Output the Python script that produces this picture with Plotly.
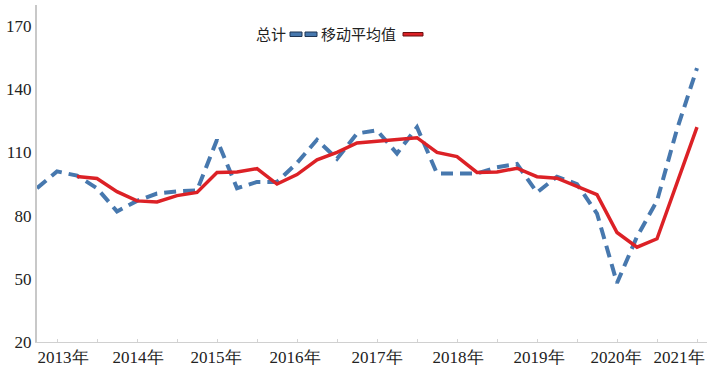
import plotly.graph_objects as go

# Quarterly series, 2013Q1 .. 2021Q2
quarters = [f"{y}Q{q}" for y in range(2013, 2022) for q in range(1, 5)][:34]
total = [93, 101, 99, 93, 82, 87, 90.5, 91.5, 92, 116, 93, 96,
         96, 105, 116, 107, 119, 120.5, 109.5, 122, 100, 100, 100, 103,
         104.5, 91, 98.5, 95, 81, 48, 70, 87, 121, 150]
moving_avg = [None, None, 98.6, 97.6, 91.4, 87, 86.5, 89.5, 91, 100.5, 100.7, 102.3,
              95, 99.5, 106.5, 110, 114.5, 115.3, 115.8, 117, 110, 108, 100.5, 100.7,
              102.5, 98.5, 97.8, 94, 90, 72, 65, 69, 95.5, 122]
year_labels = ["2013年", "2014年", "2015年", "2016年", "2017年",
               "2018年", "2019年", "2020年", "2021年"]
year_label_pos = [1.3, 5.05, 8.95, 12.9, 17.0, 21.05, 25.1, 28.95, 32.1]
y_ticks = [20, 50, 80, 110, 140, 170]

x = list(range(len(quarters)))

BLUE = "#4778ae"
RED = "#dc2126"
SERIF = "Liberation Serif"

fig = go.Figure()
fig.add_trace(go.Scatter(
    x=x, y=total, name="总计", mode="lines", customdata=quarters,
    hovertemplate="%{customdata}: %{y}<extra>总计</extra>",
    line=dict(color=BLUE, width=4, dash="12px,7px"),
))
fig.add_trace(go.Scatter(
    x=x, y=moving_avg, name="移动平均值", mode="lines", customdata=quarters,
    hovertemplate="%{customdata}: %{y}<extra>移动平均值</extra>",
    line=dict(color=RED, width=3.5),
))

fig.update_layout(
    template="none",
    width=712, height=367,
    margin=dict(l=37, r=5, t=5, b=25),
    paper_bgcolor="white", plot_bgcolor="white",
    showlegend=False,
    font=dict(family=SERIF, size=17, color="#222"),
)
fig.update_xaxes(
    automargin=False,
    range=[0, 33.5], showgrid=False, zeroline=False,
    tickmode="array", tickvals=year_label_pos, ticktext=year_labels,
    ticks="", showline=True, linecolor="#d0d0d0", linewidth=1,
    tickfont=dict(family=SERIF, size=17, color="#222"),
    minor=dict(tickmode="array", tickvals=list(range(1, 34, 2)),
               ticks="inside", ticklen=3, tickcolor="#d4d4d4", showgrid=False),
)
fig.update_yaxes(
    automargin=False,
    range=[20, 180], showgrid=False, zeroline=False,
    tickmode="array", tickvals=y_ticks, ticks="",
    showline=True, linecolor="#c8c8c8", linewidth=2,
    tickfont=dict(family=SERIF, size=17, color="#222"),
)

# Legend drawn as text + key samples (key to the right of each label)
cjk = "Noto Sans CJK SC"

def px_x(px):
    return (px - 37) / 670

def px_y(py):
    return 1 - (py - 5) / 337

fig.add_annotation(xref="paper", yref="paper", x=px_x(254), y=px_y(34),
                   text="总计", showarrow=False, xanchor="left", yanchor="middle",
                   font=dict(family=cjk, size=15, color="#222"))
fig.add_annotation(xref="paper", yref="paper", x=px_x(319), y=px_y(34),
                   text="移动平均值", showarrow=False, xanchor="left", yanchor="middle",
                   font=dict(family=cjk, size=15, color="#222"))

for x0, x1 in [(290, 302), (305, 317)]:
    fig.add_shape(type="rect", xref="paper", yref="paper",
                  x0=px_x(x0), x1=px_x(x1), y0=px_y(36.5), y1=px_y(32),
                  fillcolor=BLUE, line=dict(color="#1f3553", width=1))
fig.add_shape(type="rect", xref="paper", yref="paper",
              x0=px_x(403), x1=px_x(423), y0=px_y(36), y1=px_y(32.5),
              fillcolor=RED, line=dict(color="#6a1010", width=1))

fig.write_html(
    "out.html",
    config={"displayModeBar": False},
    post_script="document.body.style.margin='0';document.body.style.padding='0';",
)
